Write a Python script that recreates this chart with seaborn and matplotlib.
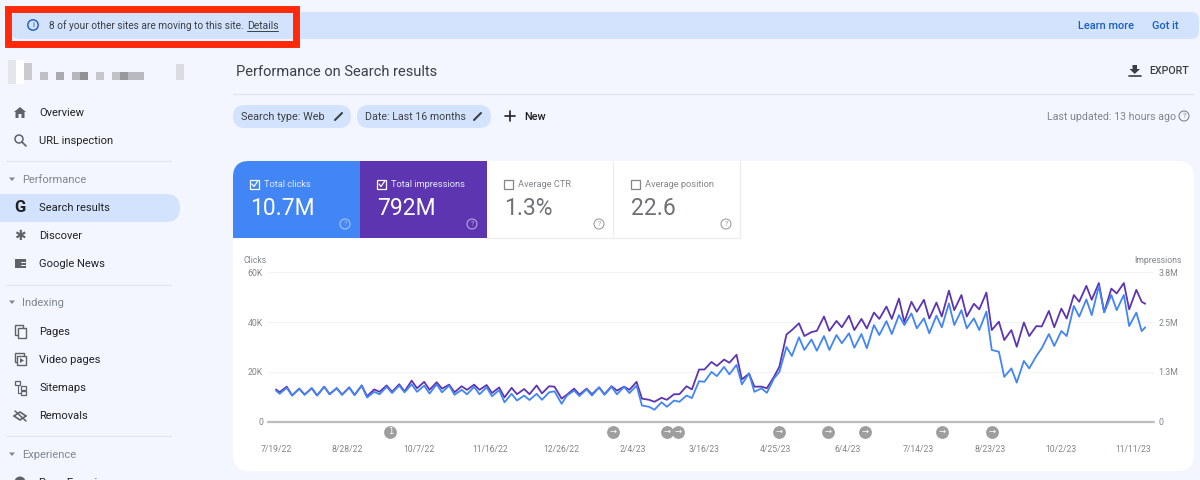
import matplotlib
matplotlib.use("Agg")
import matplotlib.pyplot as plt
from matplotlib.patches import FancyBboxPatch, Rectangle, Circle, Polygon
import pandas as pd
import seaborn as sns

sns.set_theme(style="white")
plt.rcParams['font.family'] = ['Roboto', 'DejaVu Sans']

# ---- data ----
start_date = "2022-07-19"
end_day = 487
clicks_k = [12.5,
 11.2,13.6, 10.5,13.3, 10.8,13.5, 10.5,14.0, 11.0,13.5, 10.8,13.8, 10.7,14.5,
 9.7,12.0, 11.0,14.0, 11.5,14.5, 11.8,15.0, 12.0,14.5, 11.3,15.0, 11.8,14.5,
 10.8,12.8, 11.0,14.0, 11.0,13.8, 10.2,12.7, 7.8,11.2, 8.5,10.5, 8.7,11.2,
 8.8,11.8, 12.2,7.2, 10.5,12.5, 10.3,13.0, 10.5,13.8, 10.8,14.0, 11.0,14.0,
 11.5,14.5, 6.5,6.0, 4.8,7.8, 6.0,8.5, 8.0,10.5, 9.5,16.3, 16.0,20.0,
 18.3,22.0, 19.0,22.8, 15.0,19.4, 12.0,13.4, 11.6,17.4, 20.0,30.0, 26.4,33.9,
 28.8,33.0, 28.5,34.4, 28.8,34.8, 31.5,35.5, 29.7,35.2, 29.5,38.8, 34.8,40.4,
 35.2,42.8, 38.8,43.5, 37.5,41.5, 35.5,42.6, 37.9,47.5, 38.8,44.8, 37.5,41.5,
 36.8,44.2, 28.8,28.1, 18.0,21.4, 15.7,24.4, 21.4,26.4, 29.5,35.2, 30.4,36.4,
 34.4,46.5, 42.2,49.1, 42.8,54.5, 43.9,50.9, 44.8,50.9, 38.4,43.8, 36.4,37.9]
impressions_m = [0.81,
 .74,.88, .66,.83, .68,.84, .66,.88, .69,.84, .68,.86, .67,.91,
 .64,.81, .75,.91, .75,.94, .76,1.03, .84,1.00, .80,.99, .83,.93,
 .74,.89, .80,.93, .80,.92, .72,.86, .61,.85, .69,.82, .69,.91,
 .71,.89, .88,.58, .68,.83, .68,.83, .69,.86, .69,.89, .78,.88,
 .80,1.00, .58,.55, .50,.60, .55,.69, .69,.89, .81,1.31, 1.31,1.50,
 1.40,1.56, 1.48,1.68, 1.06,1.21, .88,.88, .84,1.13, 1.38,2.19, 2.30,2.47,
 2.15,2.25, 2.28,2.64, 2.28,2.53, 2.37,2.66, 2.30,2.58, 2.34,2.74, 2.58,2.89,
 2.58,3.09, 2.50,3.01, 2.76,3.06, 2.59,2.99, 2.64,3.29, 2.80,3.18, 2.64,2.96,
 2.82,3.24, 2.30,2.51, 2.05,2.30, 1.88,2.49, 2.15,2.40, 2.39,2.78, 2.37,2.84,
 2.59,3.18, 3.01,3.41, 3.06,3.48, 2.75,3.34, 3.22,3.48, 2.82,3.31, 3.01,2.96]
click_ticks = [0, 20, 40, 60]
click_labels = ["0", "20K", "40K", "60K"]
impr_ticks = [0, 1.25, 2.5, 3.75]
impr_labels = ["0", "1.3M", "2.5M", "3.8M"]
date_labels = ["7/19/22", "8/28/22", "10/7/22", "11/16/22", "12/26/22", "2/4/23", "3/16/23",
               "4/25/23", "6/4/23", "7/14/23", "8/23/23", "10/2/23", "11/11/23"]
event_days = [64, 189, 219, 225, 282, 309, 330, 373, 401]
event_marks = ["1", "→", "→", "→", "→", "→", "→", "→", "→"]
tabs = [("Total clicks", "10.7M"), ("Total impressions", "792M"),
        ("Average CTR", "1.3%"), ("Average position", "22.6")]
nav_items = [("Overview", 112), ("URL inspection", 140), ("Search results", 207), ("Discover", 235),
             ("Google News", 263), ("Pages", 331), ("Video pages", 359), ("Sitemaps", 387), ("Removals", 415),
             ("Page Experience", 482)]
nav_heads = [("Performance", 179), ("Indexing", 302), ("Experience", 454)]

# weekly sampling: a low and a high reading per week
base = pd.Timestamp(start_date)
days = [0]
for k in range((len(clicks_k) - 1) // 2):
    days += [2 + 7 * k, 6 + 7 * k]
days[-1] = end_day
df = pd.DataFrame({"date": [base + pd.Timedelta(days=d) for d in days],
                   "clicks": clicks_k, "impressions": impressions_m})

BG = "#F3F6FE"; BANNER = "#D3E3FD"; BLUE = "#4285F4"; PURPLE = "#5E35B1"
INK = "#3C4043"; MUTED = "#80868B"

fig = plt.figure(figsize=(12, 4.8), dpi=100, facecolor=BG)
ui = fig.add_axes([0, 0, 1, 1]); ui.set_xlim(0, 1200); ui.set_ylim(480, 0); ui.axis("off")

def rbox(x0, y0, x1, y1, r, color, z=1):
    ui.add_patch(FancyBboxPatch((x0 + r, y0 + r), x1 - x0 - 2 * r, y1 - y0 - 2 * r,
                                boxstyle=f"round,pad={r},rounding_size={r}", fc=color, ec="none", zorder=z))

def txt(x, y, s, size=8.3, color=INK, ha="left", **kw):
    ui.text(x, y + 1.2, s, fontsize=size, color=color, ha=ha, va="center", **kw)

def help_icon(x, y, color, size=5):
    ui.add_patch(Circle((x, y), 5, fc="none", ec=color, lw=0.8, zorder=4))
    ui.text(x, y, "?", fontsize=size, color=color, ha="center", va="center", zorder=4)

# banner and red frame
rbox(11, 12, 1199, 39, 8, BANNER)
ui.add_patch(Rectangle((8, 8.5), 288, 35, fc="none", ec="#FF2A0A", lw=5, zorder=3))
ui.add_patch(Circle((33, 25), 5.2, fc="none", ec="#1A56C4", lw=1, zorder=4))
ui.text(33, 25, "i", fontsize=6, color="#1A56C4", ha="center", va="center", zorder=4)
txt(49, 24.5, "8 of your other sites are moving to this site.", 7.3, zorder=4)
txt(247, 24.5, "Details", 7.5, zorder=4)
ui.plot([247, 278], [31, 31], color=INK, lw=0.7, zorder=4)
txt(1078, 24.5, "Learn more", 7.9, "#1A5FC4", fontweight="medium")
txt(1152, 24.5, "Got it", 7.9, "#1A5FC4", fontweight="medium")

# blurred site name
for x, y, w, h, c in [(8, 60, 8, 24, "#E4E6EC"), (16, 60, 8, 24, "#FFFFFF"), (24, 63, 8, 17, "#C9CBD0"),
                      (40, 72, 8, 8, "#BEC0C5"), (56, 72, 8, 8, "#A9ABB0"), (72, 72, 8, 8, "#B5B7BC"),
                      (80, 72, 8, 8, "#8F9195"), (96, 72, 8, 8, "#C5C7CC"), (112, 72, 8, 8, "#C0C2C7"),
                      (120, 72, 8, 8, "#97999D"), (128, 72, 16, 8, "#B8BABF"), (176, 64, 8, 16, "#DADCE2")]:
    ui.add_patch(Rectangle((x, y), w, h, fc=c, ec="none"))

# sidebar
rbox(-20, 194, 180, 222, 14, BANNER)
for name, y in nav_items:
    txt(39, y, name, 8.0, "#202124")
for name, y in nav_heads:
    txt(22, y, name, 8.0, MUTED)
    ui.add_patch(Polygon([[9, y - 1.5], [15, y - 1.5], [12, y + 2]], fc=MUTED, ec="none"))
for y in [160.5, 284.5, 435.5]:
    ui.plot([6, 171], [y, y], color="#E3E6EE", lw=0.9)
ui.add_patch(Polygon([[20, 107], [26, 112], [24.5, 112], [24.5, 118], [21.5, 118], [21.5, 114],
                      [18.5, 114], [18.5, 118], [15.5, 118], [15.5, 112], [14, 112]], fc="#5F6368", ec="none"))
ui.add_patch(Circle((19, 139), 4, fc="none", ec="#5F6368", lw=1.1))
ui.plot([22, 26], [142, 146], color="#5F6368", lw=1.2)
ui.text(20, 208, "G", fontsize=12, color="#202124", ha="center", va="center", fontweight="bold")
ui.text(20, 236, "✱", fontsize=10, color="#5F6368", ha="center", va="center")
ui.add_patch(Rectangle((14.5, 258.5), 11.5, 9.5, fc="#5F6368", ec="none"))
ui.plot([21, 24.5], [262, 262], color="white", lw=0.7); ui.plot([21, 24.5], [265, 265], color="white", lw=0.7)
ui.add_patch(Rectangle((14.5, 325), 8, 10, fc="none", ec="#5F6368", lw=1))
ui.add_patch(Rectangle((18, 328), 7.5, 10, fc=BG, ec="#5F6368", lw=1))
ui.add_patch(Rectangle((14.5, 353), 9, 9, fc="none", ec="#5F6368", lw=1))
ui.add_patch(Rectangle((17, 356), 9, 9, fc=BG, ec="#5F6368", lw=1))
ui.add_patch(Polygon([[20, 358], [20, 363], [24, 360.5]], fc="#5F6368", ec="none"))
ui.add_patch(Rectangle((15, 381), 5, 3.5, fc="none", ec="#5F6368", lw=0.9))
ui.add_patch(Rectangle((21, 386), 5, 3.5, fc="none", ec="#5F6368", lw=0.9))
ui.add_patch(Rectangle((21, 391), 5, 3.5, fc="none", ec="#5F6368", lw=0.9))
ui.plot([17.5, 17.5, 21], [384.5, 392.5, 392.5], color="#5F6368", lw=0.8)
ui.plot([14, 20, 26], [416, 412, 416], color="#5F6368", lw=1.2)
ui.plot([14, 20, 26], [416, 420, 416], color="#5F6368", lw=1.2)
ui.plot([15, 26], [411, 421], color="#5F6368", lw=1.1)
ui.add_patch(Circle((20, 482), 5.5, fc="#5F6368", ec="none"))

# header row
txt(236, 71, "Performance on Search results", 10.5, "#3C4043")
ui.plot([233, 1194], [93.5, 93.5], color="#E0E4EC", lw=0.9)
ui.add_patch(Polygon([[1132.5, 65], [1137, 65], [1137, 69], [1140, 69], [1134.75, 74], [1129.5, 69], [1132.5, 69]],
                     fc="#3C4043", ec="none"))
ui.plot([1129, 1140.5], [76, 76], color="#3C4043", lw=1.2)
txt(1149, 70, "EXPORT", 7.7, "#3C4043", fontweight="medium")
rbox(233, 105, 351, 128, 11.5, BANNER)
txt(241, 115.5, "Search type: Web", 7.8, "#3C4043")
rbox(357, 105, 491, 128, 11.5, BANNER)
txt(365, 115.5, "Date: Last 16 months", 7.7, "#3C4043")
for x in (339, 478):
    ui.plot([x - 4, x + 3], [120, 113], color="#3C4043", lw=1.5)
ui.plot([505, 515], [116, 116], color="#202124", lw=1.2)
ui.plot([510, 510], [111, 121], color="#202124", lw=1.2)
txt(524, 115.5, "New", 7.8, "#202124", fontweight="medium")
txt(1047, 115.5, "Last updated: 13 hours ago", 7.7, MUTED)
help_icon(1184, 116, MUTED)

# card and tabs
rbox(233, 161, 1194, 471, 16, "white")
rbox(233, 161, 300, 238, 16, BLUE, 2)
ui.add_patch(Rectangle((250, 161), 110, 77, fc=BLUE, ec="none", zorder=2))
ui.add_patch(Rectangle((233, 180), 30, 58, fc=BLUE, ec="none", zorder=2))
ui.add_patch(Rectangle((360, 161), 127, 77, fc=PURPLE, ec="none", zorder=2))
for x in (613, 740):
    ui.plot([x, x], [161, 238], color="#ECEDEF", lw=0.9, zorder=2)
ui.plot([487, 740], [238.3, 238.3], color="#ECEDEF", lw=0.9, zorder=2)
for i, ((title, value), x0) in enumerate(zip(tabs, [250, 377, 504, 631])):
    lit = i < 2
    c1 = "#E3EAFB" if lit else MUTED
    c2 = "white" if lit else "#6E7276"
    ui.add_patch(Rectangle((x0, 179.5), 9, 9, fc="none", ec="white" if lit else "#80868B", lw=0.9, zorder=4))
    if lit:
        ui.plot([x0 + 2, x0 + 4, x0 + 7.5], [184, 186.5, 181.5], color="white", lw=0.9, zorder=4)
    txt(x0 + 14, 183, title, 6.65, c1, zorder=4)
    txt(x0, 207.5, value, 16.5, c2, zorder=4)
    help_icon(x0 + 95, 224, "#A9C4F7" if i == 0 else ("#B8A5E0" if i == 1 else "#9AA0A6"))
txt(244, 259, "Clicks", 6.2, MUTED)
txt(1182, 259, "Impressions", 6.2, MUTED, ha="right")

# chart: pixel box 268..1154 x, 272.3..421.7 y
ax_r = fig.add_axes([268 / 1200, 1 - 421.7 / 480, 886 / 1200, 149.4 / 480])
ax = ax_r.twinx()
sns.lineplot(data=df, x="date", y="impressions", ax=ax_r, color=PURPLE, lw=1.3, errorbar=None)
sns.lineplot(data=df, x="date", y="clicks", ax=ax, color=BLUE, lw=1.3, errorbar=None)
xmin, xmax = base - pd.Timedelta(days=4.5), base + pd.Timedelta(days=491.9)
for a in (ax_r, ax):
    a.set_xlim(xmin, xmax); a.patch.set_alpha(0)
    a.set_xlabel(""); a.set_ylabel("")
    for s in a.spines.values():
        s.set_visible(False)
ax_r.set_ylim(0, 3.75); ax.set_ylim(0, 60)
ax_r.yaxis.tick_right(); ax.yaxis.tick_left()
ax_r.set_yticks(impr_ticks, impr_labels); ax.set_yticks(click_ticks, click_labels)
ax_r.tick_params(axis="y", length=0, pad=3, labelsize=6.3, labelcolor=MUTED, labelright=True, labelleft=False)
ax.tick_params(axis="y", length=0, pad=3.6, labelsize=6.3, labelcolor=MUTED, labelleft=True, labelright=False)
for v in impr_ticks[1:]:
    ax_r.axhline(v, color="#F3F3F3", lw=0.9, zorder=0)
ax_r.axhline(0, color="#BDBDBD", lw=1.6, zorder=1, clip_on=False)
tick_dates = [base + pd.Timedelta(days=40 * i) for i in range(len(date_labels))]
ax_r.set_xticks(tick_dates, date_labels)
ax_r.tick_params(axis="x", length=0, pad=16.5, labelsize=6.2, labelcolor=MUTED)
ax.tick_params(axis="x", length=0, labelbottom=False)
trans = ax_r.get_xaxis_transform()
for d, m in zip(event_days, event_marks):
    x = base + pd.Timedelta(days=d)
    ax_r.scatter([x], [-0.067], s=85, color="#9E9E9E", transform=trans, clip_on=False, zorder=5, linewidths=0)
    ax_r.text(x, -0.067, m, transform=trans, fontsize=6, color="white", ha="center", va="center", zorder=6,
              family=["DejaVu Sans"])

fig.savefig("out.png", dpi=100, facecolor=BG)
